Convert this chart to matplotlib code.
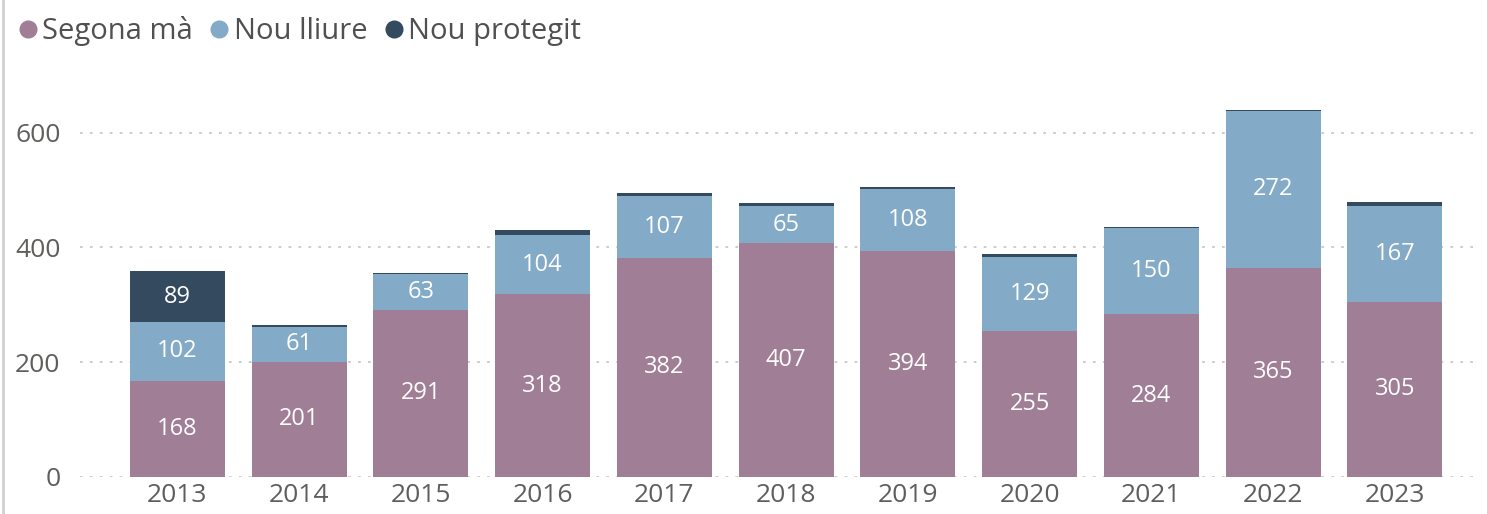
import numpy as np
import matplotlib.pyplot as plt
from matplotlib.lines import Line2D

plt.rcParams['font.family'] = ['Open Sans', 'DejaVu Sans']

anys = ['2013', '2014', '2015', '2016', '2017', '2018', '2019', '2020', '2021', '2022', '2023']
segona_ma = [168, 201, 291, 318, 382, 407, 394, 255, 284, 365, 305]
nou_lliure = [102, 61, 63, 104, 107, 65, 108, 129, 150, 272, 167]
nou_protegit = [89, 2, 2, 8, 5, 5, 4, 5, 2, 3, 7]

series = [('Segona mà', segona_ma, '#A07E96'),
          ('Nou lliure', nou_lliure, '#83AAC6'),
          ('Nou protegit', nou_protegit, '#344A5F')]

fig = plt.figure(figsize=(14.87, 5.14), dpi=100)
ax = fig.add_axes([80 / 1487, 1 - 477 / 514, 1400 / 1487, (477 - 81) / 514])

x = np.arange(len(anys))
bottom = np.zeros(len(anys))
for nom, vals, col in series:
    vals = np.array(vals, dtype=float)
    ax.bar(x, vals, 0.78, bottom=bottom, color=col, zorder=3)
    for xi, b, v in zip(x, bottom, vals):
        if v >= 20:
            ax.text(xi, b + v / 2, str(int(v)), ha='center', va='center',
                    color='white', fontsize=17, zorder=4)
    bottom += vals

ax.set_xlim(-0.8, 10.7)
ax.set_ylim(0, 690)
ax.set_xticks(x)
ax.set_xticklabels(anys)
ax.set_yticks([0, 200, 400, 600])
ax.tick_params(axis='both', length=0, labelsize=19, colors='#605E5C')
ax.tick_params(axis='x', pad=4)
ax.tick_params(axis='y', pad=14)
ax.grid(axis='y', color='#C8C8C8', linestyle=(0, (1.5, 4)), linewidth=1.3, zorder=0)
for s in ax.spines.values():
    s.set_visible(False)

# linia vertical gris a l'esquerra
fig.add_artist(Line2D([3 / 1487, 3 / 1487], [0, 1], color='#D0D0D0', lw=2,
                      transform=fig.transFigure))

handles = [Line2D([], [], marker='o', linestyle='none', markersize=12,
                  markerfacecolor=col, markeredgecolor=col) for _, _, col in series]
fig.legend(handles, [nom for nom, _, _ in series], loc='upper left',
           bbox_to_anchor=(0.0, 1.0), ncol=3, frameon=False,
           fontsize=21, handlelength=0.8, handletextpad=0.1, columnspacing=0.5,
           labelcolor='#505050', borderaxespad=0.15)

fig.savefig('out.png', dpi=100)
